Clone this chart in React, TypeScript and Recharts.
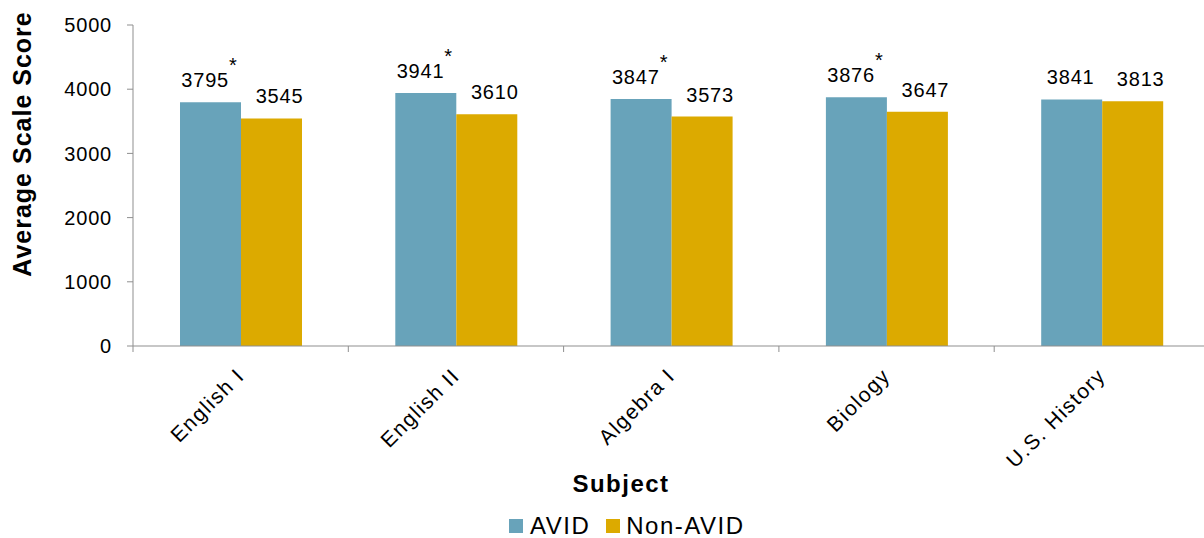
import React from 'react';
import { BarChart, Bar, XAxis, YAxis, Legend, LabelList } from 'recharts';

const subjects = ['English I', 'English II', 'Algebra I', 'Biology', 'U.S. History'];
const avidScores = [3795, 3941, 3847, 3876, 3841];
const nonAvidScores = [3545, 3610, 3573, 3647, 3813];
const avidSignificant = [true, true, true, true, false];
const yTicks = [0, 1000, 2000, 3000, 4000, 5000];

const data = subjects.map((s, i) => ({
  subject: s,
  avid: avidScores[i],
  nonAvid: nonAvidScores[i],
}));

const FONT = '"Liberation Sans", Arial, sans-serif';
const AXIS = '#8f8f8f';
const AVID_COLOR = '#68a3ba';
const NON_COLOR = '#dcaa00';

const CHART_W = 1212;
const CHART_H = 538;
const PLOT_LEFT = 133;
const PLOT_TOP = 25;
const PLOT_BOTTOM = 346;
const PLOT_RIGHT = 1209.5;
const BAND = (PLOT_RIGHT - PLOT_LEFT) / subjects.length;
const YAXIS_W = 80;
const XAXIS_H = 130;

const XTick = (props: any) => {
  const { x, payload, index } = props;
  const ay = PLOT_BOTTOM;
  const ax = x + 5;
  const ty = ay + 31;
  return (
    <g>
      {index === 0 && (
        <line x1={x - BAND / 2} x2={x - BAND / 2} y1={ay} y2={ay + 6} stroke={AXIS} />
      )}
      <line x1={x + BAND / 2} x2={x + BAND / 2} y1={ay} y2={ay + 6} stroke={AXIS} />
      <text
        x={ax}
        y={ty}
        transform={`rotate(-45 ${ax} ${ty})`}
        textAnchor="end"
        fontFamily={FONT}
        fontSize={21}
        letterSpacing={1.5}
        fill="#000"
      >
        {payload.value}
      </text>
    </g>
  );
};

const AvidLabel = (props: any) => {
  const { x, y, width, value, index } = props;
  const cx = x + width / 2 - 1;
  return (
    <text x={cx} y={y - 15} textAnchor="middle" fontFamily={FONT} fontSize={20} letterSpacing={0.8} fill="#000">
      {value}
      {avidSignificant[index] && (
        <tspan dx={0} dy={-15}>*</tspan>
      )}
    </text>
  );
};

const NonLabel = (props: any) => {
  const { x, y, width, value } = props;
  const cx = x + width / 2 + 8;
  return (
    <text x={cx} y={y - 15} textAnchor="middle" fontFamily={FONT} fontSize={20} letterSpacing={0.8} fill="#000">
      {value}
    </text>
  );
};

const SubjectTitle = () => (
  <text x={621} y={492} textAnchor="middle" fontFamily={FONT} fontSize={24} letterSpacing={1.5} fontWeight="bold" fill="#000">
    Subject
  </text>
);

const YTitle = () => (
  <text
    x={22}
    y={144}
    transform="rotate(-90 22 144)"
    textAnchor="middle"
    dominantBaseline="central"
    fontFamily={FONT}
    fontSize={25}
    letterSpacing={1}
    fontWeight="bold"
    fill="#000"
  >
    Average Scale Score
  </text>
);

const LegendContent = () => (
  <div style={{ display: 'flex', alignItems: 'center', fontFamily: FONT, fontSize: 24, letterSpacing: 1.5, color: '#000', lineHeight: '26px' }}>
    <span style={{ width: 14, height: 14, background: AVID_COLOR, display: 'inline-block', marginRight: 7 }} />
    <span style={{ marginRight: 16 }}>AVID</span>
    <span style={{ width: 14, height: 14, background: NON_COLOR, display: 'inline-block', marginRight: 6 }} />
    <span>Non-AVID</span>
  </div>
);

export default function App() {
  return (
    <div style={{ position: 'absolute', left: 0, top: 0, width: 1204, height: 538, overflow: 'hidden', background: '#fff' }}>
      <BarChart
        width={CHART_W}
        height={CHART_H}
        data={data}
        barGap={0}
        margin={{
          top: PLOT_TOP,
          left: PLOT_LEFT - YAXIS_W,
          right: CHART_W - PLOT_RIGHT,
          bottom: CHART_H - PLOT_BOTTOM - XAXIS_H,
        }}
      >
        <XAxis
          dataKey="subject"
          interval={0}
          height={XAXIS_H}
          tickLine={false}
          axisLine={{ stroke: AXIS }}
          tick={<XTick />}
          label={<SubjectTitle />}
        />
        <YAxis
          domain={[0, 5000]}
          ticks={yTicks}
          width={YAXIS_W}
          tickSize={6}
          tickMargin={15}
          axisLine={{ stroke: AXIS }}
          tickLine={{ stroke: AXIS }}
          tick={{ fill: '#000', fontSize: 20, fontFamily: FONT, letterSpacing: 0.8 }}
          label={<YTitle />}
        />
        <Legend
          verticalAlign="middle"
          layout="horizontal"
          content={<LegendContent />}
          wrapperStyle={{ position: 'absolute', top: 513, left: 509, width: 330, height: 26 }}
        />
        <Bar dataKey="avid" name="AVID" fill={AVID_COLOR} barSize={61} isAnimationActive={false}>
          <LabelList dataKey="avid" content={<AvidLabel />} />
        </Bar>
        <Bar dataKey="nonAvid" name="Non-AVID" fill={NON_COLOR} barSize={61} isAnimationActive={false}>
          <LabelList dataKey="nonAvid" content={<NonLabel />} />
        </Bar>
      </BarChart>
    </div>
  );
}
